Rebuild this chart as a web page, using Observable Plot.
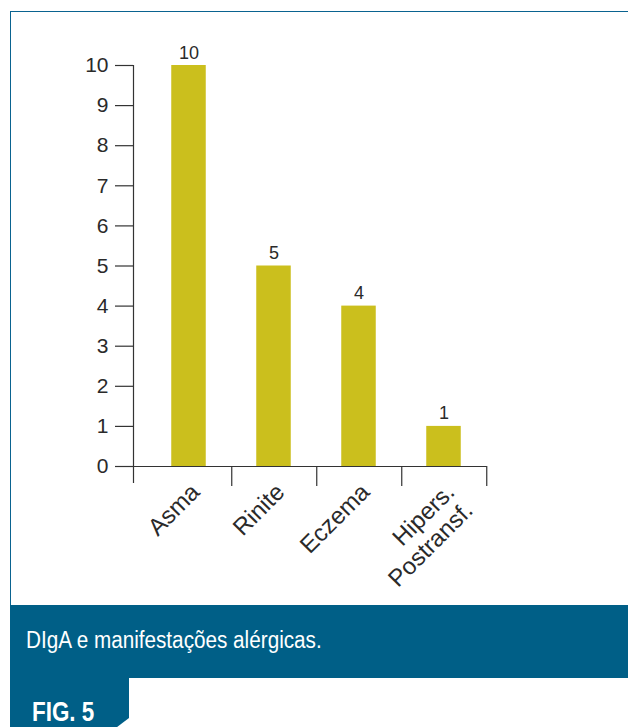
<!DOCTYPE html>
<html>
<head>
<meta charset="utf-8">
<script src="https://cdn.jsdelivr.net/npm/d3@7"></script>
<script src="https://cdn.jsdelivr.net/npm/@observablehq/plot@0.6"></script>
<style>
  html, body { margin: 0; padding: 0; background: #fff; }
  #page { position: relative; width: 628px; height: 727px; overflow: hidden; font-family: "Liberation Sans", Arial, sans-serif; }
  #frame { position: absolute; left: 10px; top: 11px; width: 640px; height: 600px; border-left: 1.5px solid #0a6390; border-top: 1.5px solid #0a6390; box-sizing: border-box; }
  #chart { position: absolute; left: 0; top: 0; }
  #band { position: absolute; left: 10px; top: 605px; width: 618px; height: 73px; background: #005f87; }
  #caption { position: absolute; left: 26px; top: 627px; color: #fff; font-family: "Liberation Sans", Arial, sans-serif; font-size: 23px; line-height: 26px; transform: scaleX(0.9); transform-origin: 0 0; white-space: nowrap; }
  #tab { position: absolute; left: 10px; top: 677px; width: 119px; height: 50px; background: #005f87; clip-path: polygon(0 0, 100% 0, 100% 82%, 90% 100%, 0 100%); }
  #fig { position: absolute; left: 32px; top: 697px; color: #fff; font-family: "Liberation Sans", Arial, sans-serif; font-weight: bold; font-size: 27px; line-height: 30px; transform: scaleX(0.83); transform-origin: 0 0; white-space: nowrap; }
</style>
</head>
<body>
<div id="page">
  <div id="frame"></div>
  <div id="chart"></div>
  <div id="band"></div>
  <div id="caption">DIgA e manifestações alérgicas.</div>
  <div id="tab"></div>
  <div id="fig">FIG. 5</div>
</div>
<script>
const categories = ["Asma", "Rinite", "Eczema", "Hipers.\nPostransf."];
const values = [10, 5, 4, 1];
const yTicks = [0, 1, 2, 3, 4, 5, 6, 7, 8, 9, 10];

const data = categories.map((c, i) => ({cat: c, value: values[i]}));
const barColor = "#cbbf1d";
const ink = "#2a2a2a";

const chart = Plot.plot({
  width: 628,
  height: 600,
  marginLeft: 133,
  marginRight: 141.25,
  marginTop: 65,
  marginBottom: 134,
  style: {background: "transparent", fontFamily: "'Liberation Sans', Arial, sans-serif", color: ink},
  x: {domain: categories, padding: 0, insetLeft: 11.75, axis: null},
  y: {domain: [0, 10], axis: null},
  marks: [
    Plot.barY(data, {x: "cat", y: "value", fill: barColor, insetLeft: 25.25, insetRight: 25.25}),
    Plot.axisY({ticks: yTicks, label: null, tickSize: 18, tickPadding: 7, fontSize: 21, stroke: "#333", fill: ink, tickFormat: d3.format("d"), strokeWidth: 1.2}),
    Plot.frame({anchor: "left", insetBottom: -16, stroke: "#333", strokeWidth: 1.2}),
    Plot.ruleY([0], {insetLeft: -18, stroke: "#333", strokeWidth: 1.2}),
    Plot.axisX({label: null, tickSize: 20, tickFormat: () => "", dx: 42.75, stroke: "#333", strokeWidth: 1.2}),
    Plot.text(data, {x: "cat", y: "value", text: d => String(d.value), dy: -7, lineAnchor: "bottom", fontSize: 18, fill: ink}),
    Plot.text(data, {x: "cat", y: () => 0, text: "cat", dx: -1, dy: 14, rotate: -45, textAnchor: "end", lineAnchor: "top", fontSize: 24, lineHeight: 1.08, fill: ink})
  ]
});
document.getElementById("chart").appendChild(chart);
</script>
</body>
</html>
